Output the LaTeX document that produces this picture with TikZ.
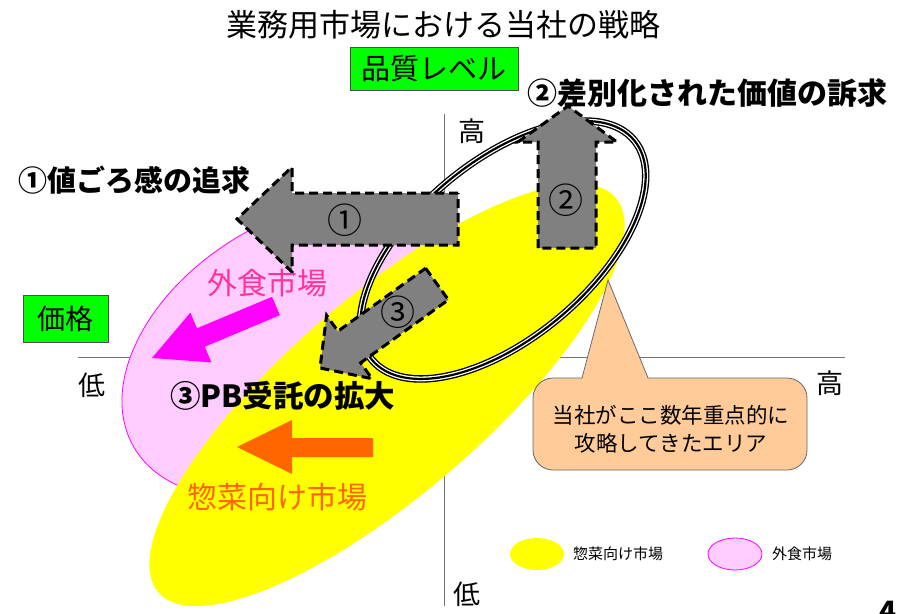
\documentclass[tikz,border=0pt]{standalone}
\usepackage{fontspec}
\newfontfamily\jp{Noto Sans CJK JP}
\newcommand\fsz[1]{\fontsize{#1}{#1}\selectfont}
\definecolor{arrowgray}{HTML}{808080}
\definecolor{boxgreen}{HTML}{00FF00}
\definecolor{pinkfill}{HTML}{FFCCFF}
\definecolor{magentaline}{HTML}{FF00FF}
\definecolor{yell}{HTML}{FFFF00}
\definecolor{orangearrow}{HTML}{FF6600}
\definecolor{pinktext}{HTML}{FF3399}
\definecolor{peach}{HTML}{FFCC99}
\begin{document}
\begin{tikzpicture}[x=1pt,y=-1pt,
  lbl/.style={inner sep=0pt, font=\jp},
  garrow/.style={fill=arrowgray, draw=black, line width=3pt, dash pattern=on 9pt off 5pt, line join=miter},
  greenbox/.style={fill=boxgreen, draw=black!70, line width=0.8pt, inner sep=0pt},
  axisline/.style={draw=black!55, double=white, line width=0.7pt, double distance=1.6pt}]
\useasboundingbox (0,0) rectangle (904,613);
% axes
\coordinate (vtop) at (443,114); \coordinate (vbot) at (443,606);
\coordinate (hl) at (78,356); \coordinate (hr) at (845,356);
\draw[axisline] (vtop) -- (vbot);
\draw[axisline] (hl) -- (hr);
% pink market
\draw[fill=pinkfill, draw=magentaline, line width=0.8pt, rotate around={30:(307,347)}] (307,347) ellipse [x radius=200pt, y radius=130pt];
% yellow market
\fill[yell, rotate around={40.8:(387,395)}] (387,395) ellipse [x radius=302pt, y radius=99pt];
% triple line ellipse
\begin{scope}[rotate around={40:(503,250)}]
\draw[black, line width=7.5pt] (503,250) ellipse [x radius=171pt, y radius=88pt];
\draw[white, line width=4.8pt] (503,250) ellipse [x radius=171pt, y radius=88pt];
\draw[black, line width=2.2pt] (503,250) ellipse [x radius=171pt, y radius=88pt];
\end{scope}
% arrows
\draw[garrow] (458,193) -- (292,193) -- (292,167) -- (237,219) -- (292,272) -- (292,245) -- (458,245) -- cycle;
\draw[garrow] (538,248) -- (538,142) -- (518,142) -- (568,106) -- (617,142) -- (596,142) -- (596,248) -- cycle;
\draw[garrow] (425.6,268.2) -- (448.4,299.8) -- (360.7,362.8) -- (372,378.7) -- (320,368) -- (326.6,315.3) -- (337.9,331.2) -- cycle;
\fill[magentaline] (279.9,315.2) -- (272.1,296.8) -- (197,328.3) -- (190.4,312.6) -- (152,358) -- (211.4,362.4) -- (204.8,346.7) -- cycle;
\fill[orangearrow] (373,438) -- (292,438) -- (292,420) -- (237,447) -- (292,474) -- (292,457) -- (373,457) -- cycle;
\node[lbl] (n1) at (345,220) {\fsz{35}①};
\node[lbl] (n2) at (566,200) {\fsz{35}②};
\node[lbl] (n3) at (398,312) {\fsz{35}③};
% callout
\draw[fill=peach, draw=black!60, line width=0.8pt, rounded corners=20pt] (533,378) rectangle (807,470);
\fill[peach] (582,379.6) -- (608,280) -- (648,379.6) -- cycle;
\draw[black!60, line width=0.8pt] (582,378) -- (608,280) -- (648,378);
\node[lbl] (c1) at (671,415) {\fsz{21.5}当社がここ数年重点的に};
\node[lbl] (c2) at (671,443) {\fsz{21.5}攻略してきたエリア};
% title and labels
\node[lbl] (title) at (443,25) {\fsz{31}業務用市場における当社の戦略};
\node[greenbox, minimum width=168pt, minimum height=43pt] (quality) at (434,68.5) {\jp\fsz{29}品質レベル};
\node[greenbox, minimum width=85pt, minimum height=47pt] (price) at (65.5,318.5) {\jp\fsz{28}価格};
\node[lbl] (hiT) at (472,131) {\fsz{27}高};
\node[lbl] (loL) at (92,385) {\fsz{27}低};
\node[lbl] (hiR) at (830,383) {\fsz{27}高};
\node[lbl] (loB) at (467,594) {\fsz{27}低};
\node[lbl, anchor=west] (h1) at (18,180) {\bfseries\fsz{29}①値ごろ感の追求};
\node[lbl, anchor=west] (h2) at (527,93) {\bfseries\fsz{30}②差別化された価値の訴求};
\node[lbl, anchor=west] (h3) at (170,396) {\bfseries\fsz{30.5}③PB受託の拡大};
\node[lbl, text=pinktext] (gai) at (267,283) {\fsz{30}外食市場};
\node[lbl, text=orangearrow] (sou) at (277,497) {\fsz{30}惣菜向け市場};
% legend
\fill[yell] (537,554) ellipse [x radius=27pt, y radius=16pt];
\node[lbl, anchor=west] (legY) at (573,554) {\fsz{15}惣菜向け市場};
\draw[fill=pinkfill, draw=magentaline, line width=0.8pt] (735,554) ellipse [x radius=27pt, y radius=16pt];
\node[lbl, anchor=west] (legP) at (772,554) {\fsz{15}外食市場};
\node[lbl, anchor=base] (page) at (888,621) {\bfseries\fsz{28}4};
\end{tikzpicture}
\end{document}
